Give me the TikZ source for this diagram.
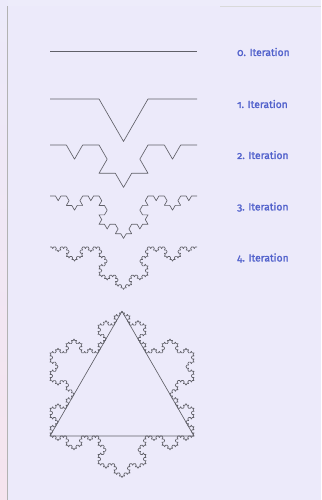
\documentclass[tikz,border=0pt]{standalone}
\usepackage{fontspec}
\newfontfamily\lblfont{Fira Sans}[Numbers=OldStyle, FakeBold=1.6]
\usetikzlibrary{decorations.fractals}
\definecolor{bgcol}{HTML}{ECEAFA}
\definecolor{stripcol}{HTML}{F5E4EE}
\definecolor{curvecol}{HTML}{606068}
\definecolor{lblcol}{HTML}{5262CC}
\tikzset{
  koch/.style={draw=curvecol, line width=0.65pt, line join=round, decoration=Koch snowflake},
  lbl/.style={anchor=west, text=lblcol, font=\lblfont\fontsize{10.3}{12}\selectfont, inner sep=0pt}
}
\begin{document}
\begin{tikzpicture}[x=1pt,y=1pt]
\useasboundingbox (0,0) rectangle (321,500);
\fill[bgcol] (0,0) rectangle (321,500);
\shade[top color=bgcol, bottom color=stripcol] (0,0) rectangle (7,500);
\draw[black!30, line width=0.6pt] (7.5,0) -- (7.5,494);
\fill[bgcol!92!white] (7.5,494) rectangle (321,500);
\draw[black!15, line width=0.4pt] (220,494) -- (321,494);

% iteration 0
\coordinate (a0) at (50,449); \coordinate (b0) at (197,449);
\draw[koch] (a0) -- (b0);
% iteration 1
\coordinate (a1) at (50,401); \coordinate (b1) at (197,401);
\draw[koch] decorate{(b1) -- (a1)};
% iteration 2
\coordinate (a2) at (50,355); \coordinate (b2) at (197,355);
\draw[koch] decorate{decorate{(b2) -- (a2)}};
% iteration 3
\coordinate (a3) at (50,304); \coordinate (b3) at (197,304);
\draw[koch] decorate{decorate{decorate{(b3) -- (a3)}}};
% iteration 4
\coordinate (a4) at (50,253); \coordinate (b4) at (197,253);
\draw[koch] decorate{decorate{decorate{decorate{(b4) -- (a4)}}}};

% labels
\node[lbl] (l0) at (237,448) {0. Iteration};
\node[lbl] (l1) at (237,396) {1. Iteration};
\node[lbl] (l2) at (237,345) {2. Iteration};
\node[lbl] (l3) at (237,293) {3. Iteration};
\node[lbl] (l4) at (237,242) {4. Iteration};

% snowflake
\coordinate (sl) at (50,64);
\coordinate (sr) at (194,64);
\coordinate (st) at (122,188.7);
\draw[koch] decorate{decorate{decorate{decorate{(sl) -- (st) -- (sr) -- cycle}}}};
\draw[curvecol, line width=0.65pt, line join=round] (sl) -- (st) -- (sr) -- cycle;
\end{tikzpicture}
\end{document}
